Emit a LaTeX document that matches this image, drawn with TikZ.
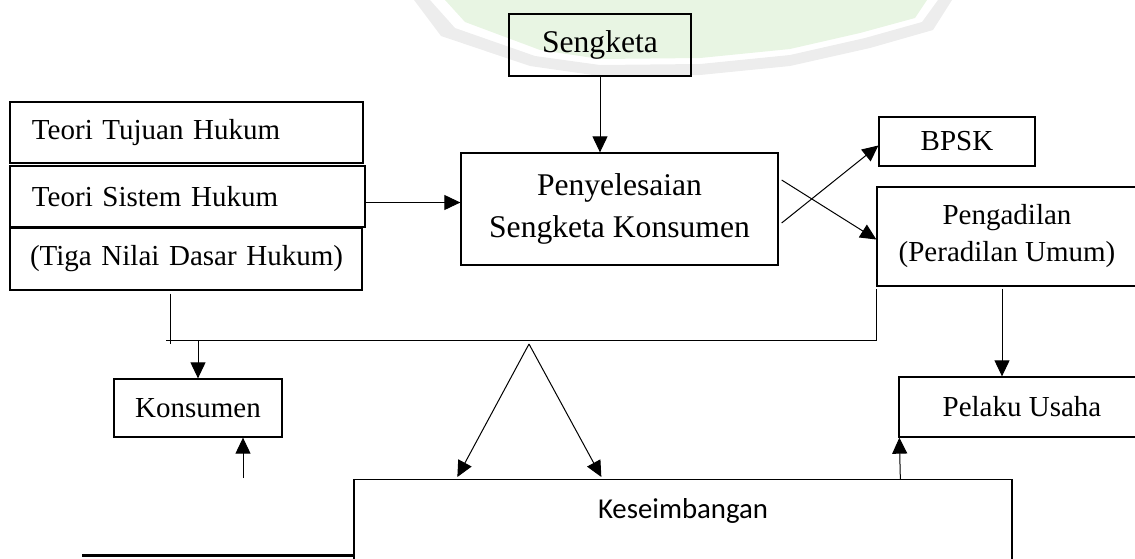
\documentclass[tikz,border=0pt]{standalone}
\usepackage{fontspec}
\setmainfont{Liberation Serif}
\newfontfamily\calfont{Carlito}
\usetikzlibrary{arrows.meta,positioning,calc}
\definecolor{wmgreen}{RGB}{232,245,227}
\definecolor{wmgray}{RGB}{237,237,237}

\begin{document}
\begin{tikzpicture}[x=0.5pt,y=-0.5pt,
  box/.style={draw,line width=0.65pt,inner sep=0pt,align=center,font=\fontsize{14.5}{18.5}\selectfont},
  bigbox/.style={box,font=\fontsize{15.8}{21}\selectfont},
  teori/.style={draw,line width=0.65pt,inner sep=0pt,text width=176.5pt,minimum height=30.5pt,align=left,font=\fontsize{14.5}{18.5}\selectfont},
  arr/.style={line width=0.5pt,-{Triangle[length=8pt,width=7.5pt]}},
  ln/.style={line width=0.5pt}]
\useasboundingbox (0,0) rectangle (1135,558);
\fill[wmgreen] (445,0) -- (465,22) -- (540,50) -- (600,59) -- (700,58) -- (790,49) -- (860,33) -- (915,18) -- (927,0) -- cycle;
\fill[wmgray] (414,0) -- (441,36) -- (530,66) -- (600,76) -- (700,75) -- (790,66) -- (870,48) -- (933,30) -- (952,0) -- (938,0) -- (922,22) -- (865,38) -- (790,55) -- (700,64) -- (600,65) -- (535,56) -- (455,28) -- (430,0) -- cycle;

\node[bigbox,minimum width=91pt,minimum height=31pt] (sengketa) at (600,45) {Sengketa};
\node[bigbox,minimum width=158.5pt,minimum height=56pt] (penyelesaian) at (619.5,209) {Penyelesaian\\Sengketa Konsumen};
\node[teori] (tujuan) at (186.5,132.5) {\hspace*{11pt}Teori Tujuan Hukum};
\node[teori,text width=177.5pt] (sistem) at (187.5,196.5) {\hspace*{11pt}Teori Sistem Hukum};
\node[teori,text width=176pt,minimum height=31pt] (tiga) at (186,259) {\hspace*{10pt}(Tiga Nilai Dasar Hukum)};
\node[box,minimum width=78pt,minimum height=24.5pt] (bpsk) at (957,141.5) {BPSK};
\node[box,minimum width=130pt,minimum height=49.5pt] (pengadilan) at (1007,236.5) {Pengadilan\\(Peradilan Umum)};
\node[box,minimum width=84pt,minimum height=29pt] (konsumen) at (198,408) {Konsumen};
\node[box,minimum width=123pt,minimum height=30pt] (pelaku) at (1022,407) {Pelaku Usaha};
\node[draw,line width=0.65pt,inner sep=0pt,anchor=north,minimum width=329pt,text height=19.5pt,text depth=60pt,font=\calfont\fontsize{14.4}{17}\selectfont] (keseimbangan) at (683,479) {Keseimbangan};

\draw[arr] (sengketa.south) -- (penyelesaian.north -| sengketa.south);
\coordinate (sistemout) at ($(sistem.east)+(0,6)$);
\draw[arr] (sistemout) -- (sistemout -| penyelesaian.west);
\draw[arr] ($(penyelesaian.east)+(3,-29)$) -- ($(pengadilan.west)+(0,3)$);
\draw[arr] ($(penyelesaian.east)+(3,14)$) -- ($(bpsk.west)+(0,4)$);

\coordinate (hl) at (166,340);
\coordinate (hr) at (pengadilan.south west |- hl);
\draw[ln] ($(tiga.south)+(-16,3)$) -- ($(tiga.south)+(-16,53)$);
\draw[ln] (hl) -- (hr) -- ($(pengadilan.south west)+(0,2)$);
\draw[arr] (konsumen.north |- hl) -- (konsumen.north);
\coordinate (apex) at (529,344);
\draw[arr] (apex) -- ($(keseimbangan.north west)+(104,-2)$);
\draw[arr] (apex) -- ($(keseimbangan.north west)+(248,-2)$);
\coordinate (pengout) at ($(pengadilan.south)+(-5,2)$);
\draw[arr] (pengout) -- (pengout |- pelaku.north);
\draw[arr] ($(keseimbangan.north west)+(547,0)$) -- ($(pelaku.south west)+(1,0)$);
\coordinate (konsumenin) at (243,478);
\draw[arr] (konsumenin) -- (konsumenin |- konsumen.south);
\coordinate (base) at (82,555);
\draw[line width=1.5pt] (base) -- (base -| keseimbangan.west);
\end{tikzpicture}
\end{document}
